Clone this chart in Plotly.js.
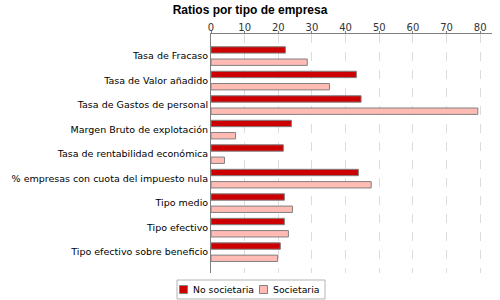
<!DOCTYPE html>
<html>
<head>
<meta charset="utf-8">
<script src="https://cdn.plot.ly/plotly-3.0.1.min.js"></script>
<style>
  html, body { margin: 0; padding: 0; background: #fff; }
  #chart { width: 500px; height: 300px; }
</style>
</head>
<body>
<div id="chart"></div>
<script>
const categories = [
  'Tasa de Fracaso',
  'Tasa de Valor añadido',
  'Tasa de Gastos de personal',
  'Margen Bruto de explotación',
  'Tasa de rentabilidad económica',
  '% empresas con cuota del impuesto nula',
  'Tipo medio',
  'Tipo efectivo',
  'Tipo efectivo sobre beneficio'
];
const noSocietaria = [22.1, 43.2, 44.6, 23.9, 21.5, 43.8, 21.8, 21.8, 20.6];
const societaria = [28.6, 35.2, 79.3, 7.3, 4.0, 47.6, 24.2, 23.0, 19.8];
const xTicks = [0, 10, 20, 30, 40, 50, 60, 70, 80];
const seriesNames = ['No societaria', 'Societaria'];
const seriesColors = ['#cc0000', '#ffbbb4'];

const font = 'DejaVu Sans, sans-serif';
const edge = '#808080';

const data = [noSocietaria, societaria].map((vals, i) => ({
  type: 'bar',
  orientation: 'h',
  name: seriesNames[i],
  y: categories,
  x: vals,
  marker: { color: seriesColors[i], line: { color: edge, width: 1 } },
}));

// legend drawn by hand, in paper units (plot area: x 211..492, y 34..273 px)
const W = 281, H = 239;
const px = x => (x - 211) / W;
const py = y => (273 - y) / H;
const legendShapes = [
  { type: 'rect', xref: 'paper', yref: 'paper', layer: 'above',
    x0: px(177), x1: px(325), y0: py(299), y1: py(280),
    line: { color: '#b4b4b4', width: 1 } },
  { type: 'rect', xref: 'paper', yref: 'paper', x0: px(179.5), x1: px(187.5), y0: py(293.5), y1: py(285.5),
    line: { color: edge, width: 1 }, fillcolor: seriesColors[0] },
  { type: 'rect', xref: 'paper', yref: 'paper', x0: px(259.5), x1: px(267.5), y0: py(293.5), y1: py(285.5),
    line: { color: edge, width: 1 }, fillcolor: seriesColors[1] },
];
const legendLabels = [
  { text: seriesNames[0], x: px(190.5), y: py(289.5) },
  { text: seriesNames[1], x: px(270.5), y: py(289.5) },
].map(a => ({
  ...a, xref: 'paper', yref: 'paper', xanchor: 'left', yanchor: 'middle', showarrow: false,
  font: { family: font, size: 9.3, color: '#000' },
}));

const layout = {
  width: 500,
  height: 300,
  title: {
    text: '<b>Ratios por tipo de empresa</b>',
    font: { family: 'Liberation Sans, Arial, sans-serif', size: 12, color: '#000' },
    x: 0.5, xref: 'container', xanchor: 'center',
    y: 0.967, yref: 'container', yanchor: 'middle',
  },
  barmode: 'group',
  bargap: 0,
  bargroupgap: 0.48,
  xaxis: {
    side: 'top',
    range: [0, 83.5],
    tickvals: xTicks,
    ticks: 'outside',
    ticklen: 2,
    tickcolor: edge,
    ticklabelstandoff: -4,
    tickfont: { family: font, size: 10, color: '#333' },
    showline: true,
    linecolor: edge,
    showgrid: true,
    gridcolor: '#dcdcdc',
    griddash: 'dash',
    zeroline: false,
  },
  yaxis: {
    type: 'category',
    range: [8.85, -0.9],
    showline: true,
    linecolor: edge,
    ticks: '',
    showgrid: false,
    tickfont: { family: font, size: 9.5, color: '#000' },
  },
  showlegend: false,
  shapes: legendShapes,
  annotations: legendLabels,
  margin: { l: 211, r: 8, t: 34, b: 27 },
  paper_bgcolor: '#fff',
  plot_bgcolor: '#fff',
};

Plotly.newPlot('chart', data, layout, { displayModeBar: false, staticPlot: true });
</script>
</body>
</html>
